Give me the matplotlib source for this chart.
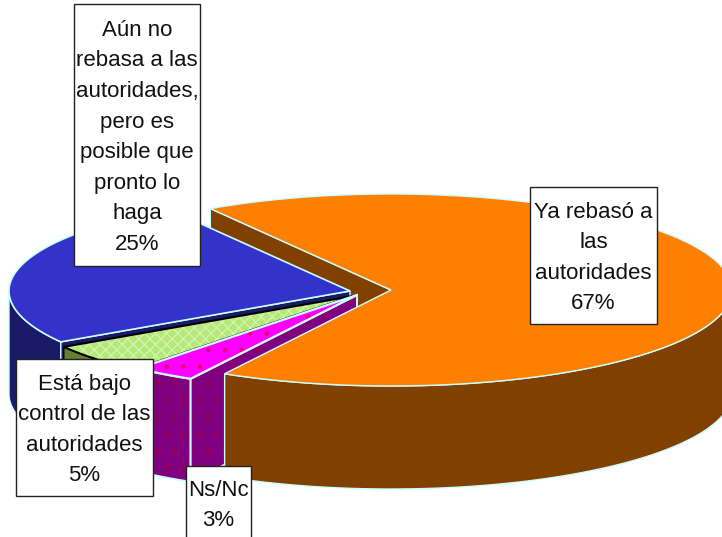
import numpy as np
import matplotlib
matplotlib.use('Agg')
import matplotlib.pyplot as plt
from matplotlib.patches import Polygon, Rectangle

plt.rcParams['font.family'] = ['Liberation Sans', 'DejaVu Sans']
plt.rcParams['hatch.linewidth'] = 0.9

labels = ['Ya rebasó a\nlas\nautoridades', 'Ns/Nc', 'Está bajo\ncontrol de las\nautoridades',
          'Aún no\nrebasa a las\nautoridades,\npero es\nposible que\npronto lo\nhaga']
values = [67, 3, 5, 25]

# layout, in pixels of the picture
RX, RY, DEPTH = 341, 96, 103
START = 122.0
centers = [(391, 290), (357, 295), (353, 296), (350, 291)]
boxes = [(530, 187, 127, 137), (186, 466, 65, 90), (16, 359, 137, 137), (74, 4, 126, 262)]
EDGE = '#CCFFFF'

fig = plt.figure(figsize=(7.22, 5.37), dpi=100)
ax = fig.add_axes([0, 0, 1, 1])
ax.set_xlim(0, 722)
ax.set_ylim(537, 0)
ax.axis('off')

# slice angles, clockwise from START
ends = START - np.cumsum(values) * 3.6
starts = np.r_[START, ends[:-1]]


def rim(c, a0, a1, n=120):
    t = np.radians(np.linspace(a0, a1, n))
    return np.c_[c[0] + RX * np.cos(t), c[1] - RY * np.sin(t)]


def shape(pts, face, edge=EDGE, hatch=None, hatch_col=None, z=1, lw=1.0):
    if hatch:
        ax.add_patch(Polygon(pts, closed=True, facecolor=face, edgecolor=hatch_col, hatch=hatch, lw=0, zorder=z))
        ax.add_patch(Polygon(pts, closed=True, fill=False, edgecolor=edge, lw=lw, zorder=z))
    else:
        ax.add_patch(Polygon(pts, closed=True, facecolor=face, edgecolor=edge, lw=lw, zorder=z))


def side(pts):
    # top outline plus the same outline moved down by the pie depth
    low = pts[::-1] + np.array([0, DEPTH])
    return np.r_[pts, low]


def top(c, a0, a1):
    return np.r_[[c], rim(c, a0, a1)]


orange, purple, green, blue = 0, 1, 2, 3

# back wall of the orange slice goes first, everything else covers it
c = centers[orange]
shape(side(np.array([rim(c, starts[orange], starts[orange], 1)[0], c])), '#804000', z=1)

# blue slice
c = centers[blue]
shape(side(rim(c, starts[blue], -180)), '#1A1A66', z=2)
shape(side(np.array([c, rim(c, starts[blue], starts[blue], 1)[0]])), '#1A1A66', z=2)
shape(top(c, starts[blue], ends[blue]), '#3333CC', z=3, lw=1.2)

# green slice
c = centers[green]
shape(side(rim(c, starts[green], ends[green])), '#66802E', edge='black', z=4)
shape(top(c, starts[green], ends[green]), '#B4E87A', edge='black', hatch='xxx', hatch_col='#D6F5AE', z=5, lw=1.5)

# pink slice
c = centers[purple]
shape(side(rim(c, starts[purple], ends[purple])), '#800080', hatch='.', hatch_col='#950055', z=6, lw=1.4)
shape(side(np.array([c, rim(c, starts[purple], starts[purple], 1)[0]])), '#800080', hatch='.', hatch_col='#950055', z=6, lw=1.4)
shape(top(c, starts[purple], ends[purple]), '#FF00FF', hatch='.', hatch_col='#E00078', z=7, lw=1.6)

# orange slice
c = centers[orange]
shape(side(rim(c, starts[purple], 0)), '#804000', z=8)
shape(top(c, starts[orange], ends[orange]), '#FF8000', z=9)

# labels
for lab, val, (x, y, w, h) in zip(labels, values, boxes):
    ax.add_patch(Rectangle((x, y), w, h, facecolor='white', edgecolor='#222222', lw=1.0, zorder=10))
    # Ns/Nc runs off the bottom, so its text is placed from the top of the box
    cy = y + 39.5 if lab == 'Ns/Nc' else y + h / 2 + 2.5
    ax.text(x + w / 2, cy, lab + '\n%d%%' % val, ha='center', va='center', fontsize=16,
            linespacing=1.6, color='#111111', zorder=11)

fig.savefig('out.png', dpi=100)
